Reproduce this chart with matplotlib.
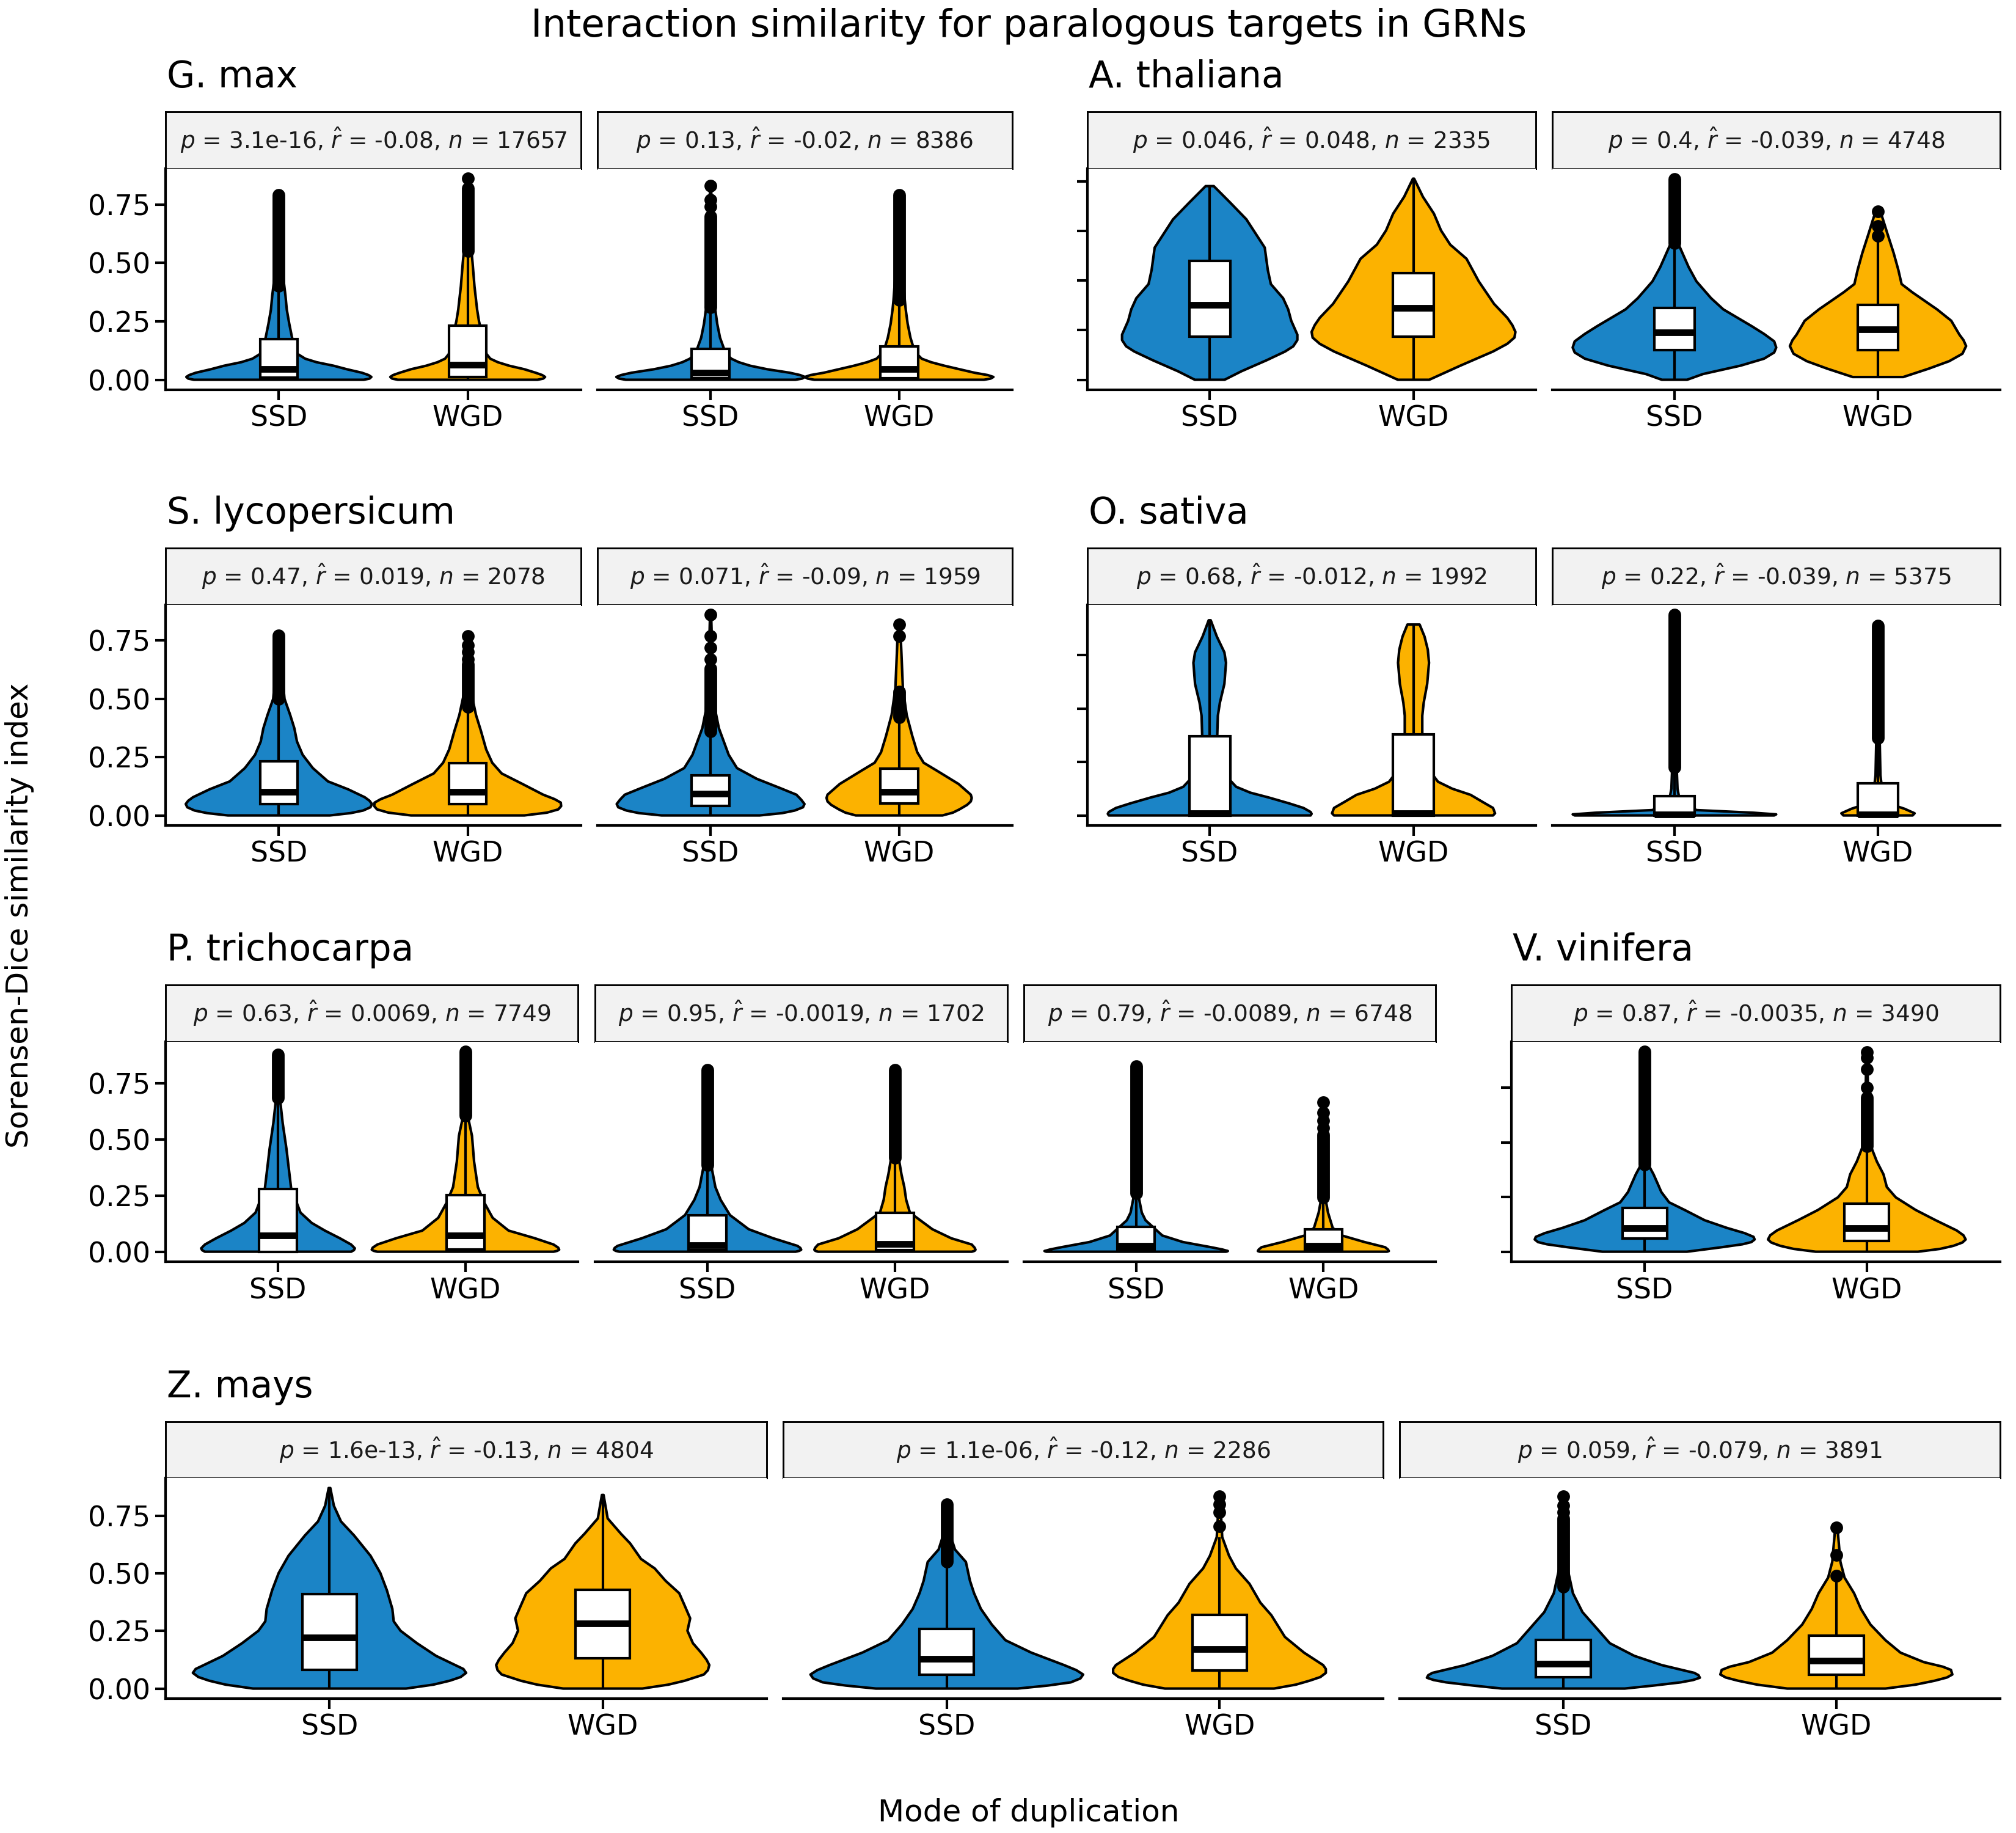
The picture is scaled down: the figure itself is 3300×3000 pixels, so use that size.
import numpy as np
import matplotlib.pyplot as plt
from matplotlib.patches import Rectangle

plt.rcParams['font.family'] = 'DejaVu Sans'
plt.rcParams['mathtext.fontset'] = 'dejavusans'

BLUE = '#1B84C6'
GOLD = '#FCB200'
modes = ['SSD', 'WGD']

# violin outlines: (similarity, half width in x units), bottom to top
# boxes: (q1, median, q3, whisker low, whisker high) for SSD, WGD
# dense: runs of overlapping outliers, pts: single outliers

# --- G. max
gmax1_text = ('3.1e-16', '-0.08', '17657')
gmax1_ssd = [(0, .45), (.005, .48), (.012, .49), (.02, .475), (.03, .44), (.045, .36), (.06, .29), (.075, .20),
             (.09, .14), (.11, .10), (.14, .085), (.18, .07), (.24, .055), (.30, .042), (.36, .035), (.42, .026),
             (.5, .016), (.6, .01), (.7, .007), (.79, .003)]
gmax1_wgd = [(0, .37), (.005, .40), (.012, .41), (.02, .395), (.03, .36), (.045, .30), (.06, .22), (.075, .16),
             (.09, .12), (.11, .10), (.15, .09), (.2, .075), (.25, .06), (.3, .05), (.4, .036), (.5, .026),
             (.55, .02), (.65, .012), (.75, .008), (.86, .003)]
gmax1_box = [(.008, .045, .175, 0, .40), (.012, .063, .232, 0, .55)]
gmax1_dense = [(.40, .79), (.55, .82)]
gmax1_pts = [[], [.86]]

gmax2_text = ('0.13', '-0.02', '8386')
gmax2_ssd = [(0, .45), (.005, .485), (.012, .50), (.02, .475), (.03, .42), (.045, .30), (.06, .21), (.075, .15),
             (.09, .11), (.11, .085), (.135, .07), (.18, .05), (.24, .035), (.3, .025), (.4, .015), (.5, .01),
             (.6, .008), (.83, .003)]
gmax2_wgd = [(0, .45), (.005, .485), (.012, .50), (.02, .47), (.03, .40), (.045, .32), (.06, .24), (.075, .17),
             (.09, .12), (.11, .095), (.14, .075), (.18, .06), (.24, .045), (.3, .035), (.34, .03), (.45, .02),
             (.6, .012), (.79, .003)]
gmax2_box = [(.006, .03, .133, 0, .31), (.006, .046, .142, 0, .34)]
gmax2_dense = [(.31, .70), (.34, .79)]
gmax2_pts = [[.74, .77, .83], []]

# --- A. thaliana
athal1_text = ('0.046', '0.048', '2335')
athal1_ssd = [(0, .073), (.034, .155), (.079, .28), (.114, .37), (.135, .41), (.16, .43), (.182, .43),
              (.21, .415), (.238, .40), (.284, .385), (.329, .36), (.386, .30), (.443, .285), (.533, .27),
              (.647, .18), (.715, .10), (.781, .02)]
athal1_wgd = [(0, .077), (.057, .23), (.114, .39), (.145, .46), (.17, .495), (.193, .50), (.22, .485),
              (.25, .46), (.306, .395), (.397, .32), (.488, .26), (.545, .18), (.602, .135), (.67, .10),
              (.738, .046), (.811, .003)]
athal1_box = [(.173, .301, .479, 0, .781), (.173, .289, .431, 0, .811)]
athal1_dense = [(), ()]
athal1_pts = [[], []]

athal2_text = ('0.4', '-0.039', '4748')
athal2_ssd = [(0, .062), (.023, .14), (.057, .325), (.085, .44), (.11, .49), (.13, .50), (.155, .49),
              (.185, .44), (.216, .38), (.284, .24), (.329, .18), (.397, .108), (.454, .07), (.556, .015),
              (.81, .003)]
athal2_wgd = [(.011, .124), (.045, .25), (.075, .35), (.105, .415), (.136, .433), (.16, .42), (.182, .40),
              (.238, .36), (.284, .29), (.352, .17), (.386, .116), (.443, .10), (.511, .077), (.59, .046),
              (.658, .02), (.68, .005)]
athal2_box = [(.119, .191, .289, 0, .55), (.119, .204, .301, .011, .568)]
athal2_dense = [(.55, .81), ()]
athal2_pts = [[], [.58, .62, .68]]

# --- S. lycopersicum
slyco1_text = ('0.47', '0.019', '2078')
slyco1_ssd = [(0, .27), (.01, .38), (.021, .446), (.035, .485), (.049, .493), (.063, .48), (.078, .455),
              (.112, .367), (.146, .26), (.203, .18), (.26, .126), (.317, .096), (.374, .082), (.431, .06),
              (.50, .03), (.66, .012), (.773, .003)]
slyco1_wgd = [(0, .30), (.012, .42), (.026, .48), (.04, .495), (.055, .493), (.07, .46), (.089, .40),
              (.135, .29), (.18, .18), (.226, .13), (.283, .098), (.363, .07), (.431, .044), (.522, .02),
              (.65, .01), (.773, .003)]
slyco1_box = [(.049, .10, .231, 0, .50), (.049, .10, .223, 0, .465)]
slyco1_dense = [(.50, .773), (.465, .65)]
slyco1_pts = [[], [.67, .70, .73, .77]]

slyco2_text = ('0.071', '-0.09', '1959')
slyco2_ssd = [(0, .26), (.01, .38), (.021, .446), (.035, .49), (.049, .498), (.068, .48), (.089, .455),
              (.117, .37), (.157, .245), (.203, .14), (.26, .096), (.317, .07), (.374, .044), (.45, .025),
              (.6, .012), (.86, .003)]
slyco2_wgd = [(0, .23), (.012, .285), (.026, .32), (.045, .36), (.06, .38), (.075, .385), (.089, .38),
              (.135, .315), (.192, .20), (.226, .13), (.271, .096), (.34, .07), (.431, .04), (.545, .02),
              (.773, .008), (.824, .003)]
slyco2_box = [(.041, .092, .171, 0, .36), (.052, .10, .20, 0, .42)]
slyco2_dense = [(.36, .63), (.42, .53)]
slyco2_pts = [[.67, .72, .77, .86], [.77, .82]]

# --- O. sativa
osat1_text = ('0.68', '-0.012', '1992')
osat1_ssd = [(0, .495), (.006, .50), (.013, .495), (.028, .46), (.045, .39), (.067, .29), (.085, .20),
             (.107, .13), (.156, .07), (.225, .045), (.299, .037), (.373, .04), (.422, .05), (.492, .072),
             (.571, .08), (.61, .072), (.669, .035), (.73, .005)]
osat1_wgd = [(0, .39), (.008, .40), (.028, .39), (.05, .34), (.077, .28), (.1, .19), (.126, .12), (.166, .08),
             (.225, .05), (.304, .043), (.373, .043), (.422, .05), (.492, .067), (.571, .076), (.62, .07),
             (.669, .054), (.714, .03)]
osat1_box = [(0, .008, .296, 0, .73), (0, .008, .302, 0, .714)]
osat1_dense = [(), ()]
osat1_pts = [[], []]

osat2_text = ('0.22', '-0.039', '5375')
osat2_ssd = [(0, .49), (.004, .5), (.01, .39), (.02, .11), (.04, .03), (.1, .015), (.2, .01), (.5, .005),
             (.75, .002)]
osat2_wgd = [(0, .17), (.008, .18), (.025, .13), (.035, .09), (.05, .05), (.1, .02), (.15, .012), (.3, .008),
             (.5, .005), (.71, .002)]
osat2_box = [(0, .003, .072, 0, .176), (0, .003, .121, 0, .284)]
osat2_dense = [(.18, .75), (.29, .71)]
osat2_pts = [[], []]

# --- P. trichocarpa
ptri1_text = ('0.63', '0.0069', '7749')
ptri1_ssd = [(0, .39), (.007, .405), (.015, .41), (.032, .39), (.06, .33), (.094, .25), (.128, .18),
             (.174, .12), (.282, .07), (.458, .045), (.572, .025), (.685, .01), (.88, .003)]
ptri1_wgd = [(0, .47), (.004, .49), (.009, .50), (.018, .495), (.032, .47), (.06, .37), (.094, .23),
             (.151, .145), (.219, .10), (.288, .066), (.401, .046), (.515, .035), (.606, .012), (.89, .003)]
ptri1_box = [(0, .072, .28, 0, .685), (.009, .072, .251, 0, .606)]
ptri1_dense = [(.685, .878), (.606, .89)]
ptri1_pts = [[], []]

ptri2_text = ('0.95', '-0.0019', '1702')
ptri2_ssd = [(0, .47), (.004, .49), (.009, .50), (.017, .495), (.026, .48), (.06, .35), (.10, .22),
             (.163, .12), (.231, .07), (.288, .042), (.384, .02), (.6, .008), (.81, .003)]
ptri2_wgd = [(0, .41), (.004, .425), (.009, .43), (.018, .425), (.032, .41), (.06, .30), (.10, .20),
             (.174, .08), (.231, .06), (.288, .05), (.344, .035), (.418, .02), (.6, .008), (.81, .003)]
ptri2_box = [(.006, .028, .163, 0, .384), (.006, .035, .174, 0, .418)]
ptri2_dense = [(.384, .81), (.418, .81)]
ptri2_pts = [[], []]

ptri3_text = ('0.79', '-0.0089', '6748')
ptri3_ssd = [(0, .48), (.003, .49), (.01, .46), (.02, .40), (.043, .25), (.072, .14), (.14, .05), (.174, .03),
             (.259, .01), (.5, .005), (.827, .002)]
ptri3_wgd = [(0, .34), (.003, .35), (.01, .345), (.02, .33), (.043, .22), (.072, .10), (.106, .05),
             (.174, .025), (.242, .01), (.4, .005), (.665, .002)]
ptri3_box = [(.006, .026, .111, 0, .259), (.006, .026, .10, 0, .242)]
ptri3_dense = [(.259, .827), (.242, .52)]
ptri3_pts = [[], [.55, .585, .62, .665]]

# --- V. vinifera
vvin_text = ('0.87', '-0.0035', '3490')
vvin_ssd = [(0, .19), (.021, .35), (.034, .44), (.044, .48), (.056, .495), (.068, .49), (.085, .45),
            (.109, .37), (.144, .27), (.191, .18), (.226, .11), (.273, .075), (.308, .06), (.354, .04),
            (.401, .015), (.6, .006), (.915, .002)]
vvin_wgd = [(0, .23), (.013, .33), (.027, .39), (.042, .43), (.056, .445), (.075, .435), (.097, .405),
            (.144, .31), (.191, .22), (.249, .13), (.296, .09), (.354, .075), (.413, .045), (.483, .018),
            (.7, .006), (.912, .002)]
vvin_box = [(.06, .109, .199, 0, .40), (.048, .109, .22, 0, .483)]
vvin_dense = [(.40, .915), (.483, .705)]
vvin_pts = [[], [.752, .834, .887, .912]]

# --- Z. mays
zmays1_text = ('1.6e-13', '-0.13', '4804')
zmays1_ssd = [(0, .28), (.017, .38), (.034, .44), (.05, .48), (.068, .50), (.085, .49), (.102, .46),
              (.142, .39), (.197, .32), (.251, .26), (.292, .235), (.346, .23), (.427, .21), (.502, .186),
              (.577, .15), (.665, .09), (.726, .042), (.794, .016), (.871, .003)]
zmays1_wgd = [(0, .145), (.017, .24), (.034, .30), (.061, .37), (.08, .385), (.102, .39), (.125, .38),
              (.156, .36), (.197, .33), (.251, .31), (.305, .32), (.36, .30), (.414, .28), (.468, .23),
              (.522, .19), (.563, .14), (.631, .10), (.672, .067), (.739, .018), (.841, .003)]
zmays1_box = [(.08, .221, .41, 0, .871), (.132, .282, .43, 0, .841)]
zmays1_dense = [(), ()]
zmays1_pts = [[], []]

zmays2_text = ('1.1e-06', '-0.12', '2286')
zmays2_ssd = [(0, .26), (.013, .37), (.027, .455), (.044, .49), (.061, .50), (.08, .475), (.102, .43),
              (.156, .31), (.21, .215), (.278, .165), (.346, .125), (.414, .10), (.468, .085), (.55, .07),
              (.604, .03), (.685, .008), (.80, .002)]
zmays2_wgd = [(0, .20), (.017, .28), (.034, .33), (.05, .37), (.068, .39), (.085, .39), (.102, .38),
              (.156, .31), (.224, .24), (.319, .19), (.373, .15), (.455, .11), (.522, .06), (.577, .035),
              (.658, .01), (.834, .002)]
zmays2_box = [(.061, .129, .26, 0, .55), (.079, .172, .32, 0, .658)]
zmays2_dense = [(.55, .80), ()]
zmays2_pts = [[], [.706, .767, .80, .834]]

zmays3_text = ('0.059', '-0.079', '3891')
zmays3_ssd = [(0, .225), (.013, .33), (.027, .43), (.037, .475), (.047, .50), (.058, .495), (.068, .48),
              (.102, .36), (.142, .26), (.197, .17), (.278, .11), (.332, .07), (.414, .035), (.55, .01),
              (.834, .002)]
zmays3_wgd = [(0, .18), (.017, .29), (.034, .36), (.048, .405), (.061, .425), (.081, .42), (.095, .39),
              (.115, .32), (.156, .235), (.21, .18), (.278, .125), (.346, .09), (.414, .065), (.482, .03),
              (.55, .015), (.70, .004)]
zmays3_box = [(.05, .109, .21, 0, .441), (.061, .122, .23, 0, .475)]
zmays3_dense = [(.441, .74), ()]
zmays3_pts = [[.767, .794, .834], [.49, .58, .70]]

species = ['G. max', 'A. thaliana', 'S. lycopersicum', 'O. sativa', 'P. trichocarpa', 'V. vinifera', 'Z. mays']
ticks_q = [0, .25, .5, .75]
ticks_athal = [0, .2, .4, .6, .8]
ticks_osat = [0, .2, .4, .6]

panels = {
    'G. max': [(gmax1_text, gmax1_ssd, gmax1_wgd, gmax1_box, gmax1_dense, gmax1_pts),
               (gmax2_text, gmax2_ssd, gmax2_wgd, gmax2_box, gmax2_dense, gmax2_pts)],
    'A. thaliana': [(athal1_text, athal1_ssd, athal1_wgd, athal1_box, athal1_dense, athal1_pts),
                    (athal2_text, athal2_ssd, athal2_wgd, athal2_box, athal2_dense, athal2_pts)],
    'S. lycopersicum': [(slyco1_text, slyco1_ssd, slyco1_wgd, slyco1_box, slyco1_dense, slyco1_pts),
                        (slyco2_text, slyco2_ssd, slyco2_wgd, slyco2_box, slyco2_dense, slyco2_pts)],
    'O. sativa': [(osat1_text, osat1_ssd, osat1_wgd, osat1_box, osat1_dense, osat1_pts),
                  (osat2_text, osat2_ssd, osat2_wgd, osat2_box, osat2_dense, osat2_pts)],
    'P. trichocarpa': [(ptri1_text, ptri1_ssd, ptri1_wgd, ptri1_box, ptri1_dense, ptri1_pts),
                       (ptri2_text, ptri2_ssd, ptri2_wgd, ptri2_box, ptri2_dense, ptri2_pts),
                       (ptri3_text, ptri3_ssd, ptri3_wgd, ptri3_box, ptri3_dense, ptri3_pts)],
    'V. vinifera': [(vvin_text, vvin_ssd, vvin_wgd, vvin_box, vvin_dense, vvin_pts)],
    'Z. mays': [(zmays1_text, zmays1_ssd, zmays1_wgd, zmays1_box, zmays1_dense, zmays1_pts),
                (zmays2_text, zmays2_ssd, zmays2_wgd, zmays2_box, zmays2_dense, zmays2_pts),
                (zmays3_text, zmays3_ssd, zmays3_wgd, zmays3_box, zmays3_dense, zmays3_pts)],
}
yticks = {'G. max': ticks_q, 'A. thaliana': ticks_athal, 'S. lycopersicum': ticks_q, 'O. sativa': ticks_osat,
          'P. trichocarpa': ticks_q, 'V. vinifera': ticks_q, 'Z. mays': ticks_q}

# layout in pixels: (strip top, panel top, panel bottom) per row, column spans per group
W, H = 3300, 3000
rows = [(183, 276, 638), (897, 990, 1351), (1612, 1705, 2065), (2327, 2419, 2780)]
layout = {
    'G. max': (0, [(271, 951), (978, 1657)], True),
    'A. thaliana': (0, [(1780, 2514), (2541, 3274)], False),
    'S. lycopersicum': (1, [(271, 951), (978, 1657)], True),
    'O. sativa': (1, [(1780, 2514), (2541, 3274)], False),
    'P. trichocarpa': (2, [(271, 946), (974, 1649), (1676, 2350)], True),
    'V. vinifera': (2, [(2474, 3274)], False),
    'Z. mays': (3, [(271, 1255), (1282, 2264), (2291, 3274)], True),
}

fig = plt.figure(figsize=(11, 10), dpi=300)


def fax(l, t, r, b):
    return fig.add_axes([l / W, 1 - b / H, (r - l) / W, (b - t) / H])


def violin(ax, x, prof, color):
    y = np.array([p[0] for p in prof])
    w = np.array([p[1] for p in prof])
    ax.fill(np.r_[x - w, (x + w)[::-1]], np.r_[y, y[::-1]], fc=color, ec='black', lw=1.0,
            joinstyle='round', zorder=2)


def box(ax, x, st, dense, pts):
    q1, med, q3, lo, hi = st
    ax.vlines([x, x], [lo, q3], [q1, hi], color='black', lw=1.0, zorder=3)
    ax.add_patch(Rectangle((x - .1, q1), .2, q3 - q1, fc='white', ec='black', lw=1.0, zorder=4))
    ax.hlines(med, x - .1, x + .1, color='black', lw=2.6, zorder=5)
    if dense:
        ax.plot([x, x], dense, color='black', lw=5.0, solid_capstyle='round', zorder=6)
    if pts:
        ax.plot([x] * len(pts), pts, 'o', ms=5.0, color='black', mec='none', zorder=6)


for sp in species:
    row, cols, labels = layout[sp]
    st, pt, pb = rows[row]
    plist = panels[sp]
    ymax = max(max(p[1][-1][0], p[2][-1][0], max([max(d) for d in p[4] if d] + [0]),
                   max([max(q) for q in p[5] if q] + [0])) for p in plist)
    fig.text((cols[0][0] + 2) / W, 1 - (st - 40) / H, sp, fontsize=14.3, ha='left', va='baseline')
    for i, ((l, r), p) in enumerate(zip(cols, plist)):
        text, ssd, wgd, bx, dense, pts = p
        sax = fax(l, st, r, pt)
        sax.set_facecolor('#F2F2F2')
        sax.set_xticks([])
        sax.set_yticks([])
        for s in sax.spines.values():
            s.set_linewidth(0.7)
        sax.text(0.5, 0.5, r'$p$ = %s, $\hat{r}$ = %s, $n$ = %s' % text, fontsize=9, color='#1A1A1A',
                 ha='center', va='center', transform=sax.transAxes)

        ax = fax(l, pt, r, pb)
        for j, (prof, col) in enumerate([(ssd, BLUE), (wgd, GOLD)]):
            violin(ax, j + 1, prof, col)
            box(ax, j + 1, bx[j], dense[j], pts[j])
        ax.set_xlim(0.4, 2.6)
        ax.set_ylim(-0.05 * ymax, 1.05 * ymax)
        ax.set_xticks([1, 2])
        ax.set_xticklabels(modes)
        ax.set_yticks(yticks[sp])
        ax.set_yticklabels(['%.2f' % v for v in yticks[sp]])
        for s in ['top', 'right']:
            ax.spines[s].set_visible(False)
        ax.spines['bottom'].set_linewidth(1.0)
        ax.spines['left'].set_linewidth(1.0)
        ax.tick_params(length=4, width=1.0, labelsize=11, pad=2, colors='black')
        if i > 0:
            ax.spines['left'].set_visible(False)
            ax.tick_params(axis='y', left=False, labelleft=False)
        elif not labels:
            ax.tick_params(axis='y', labelleft=False)

fig.text(1684 / W, 1 - 60 / H, 'Interaction similarity for paralogous targets in GRNs', fontsize=15,
         ha='center', va='baseline')
fig.text(1684 / W, 1 - 2981 / H, 'Mode of duplication', fontsize=12, ha='center', va='baseline')
fig.text(32 / W, 1 - 1498 / H, 'Sorensen-Dice similarity index', fontsize=12, rotation=90,
         ha='center', va='center')

fig.savefig('out.png', dpi=300)
